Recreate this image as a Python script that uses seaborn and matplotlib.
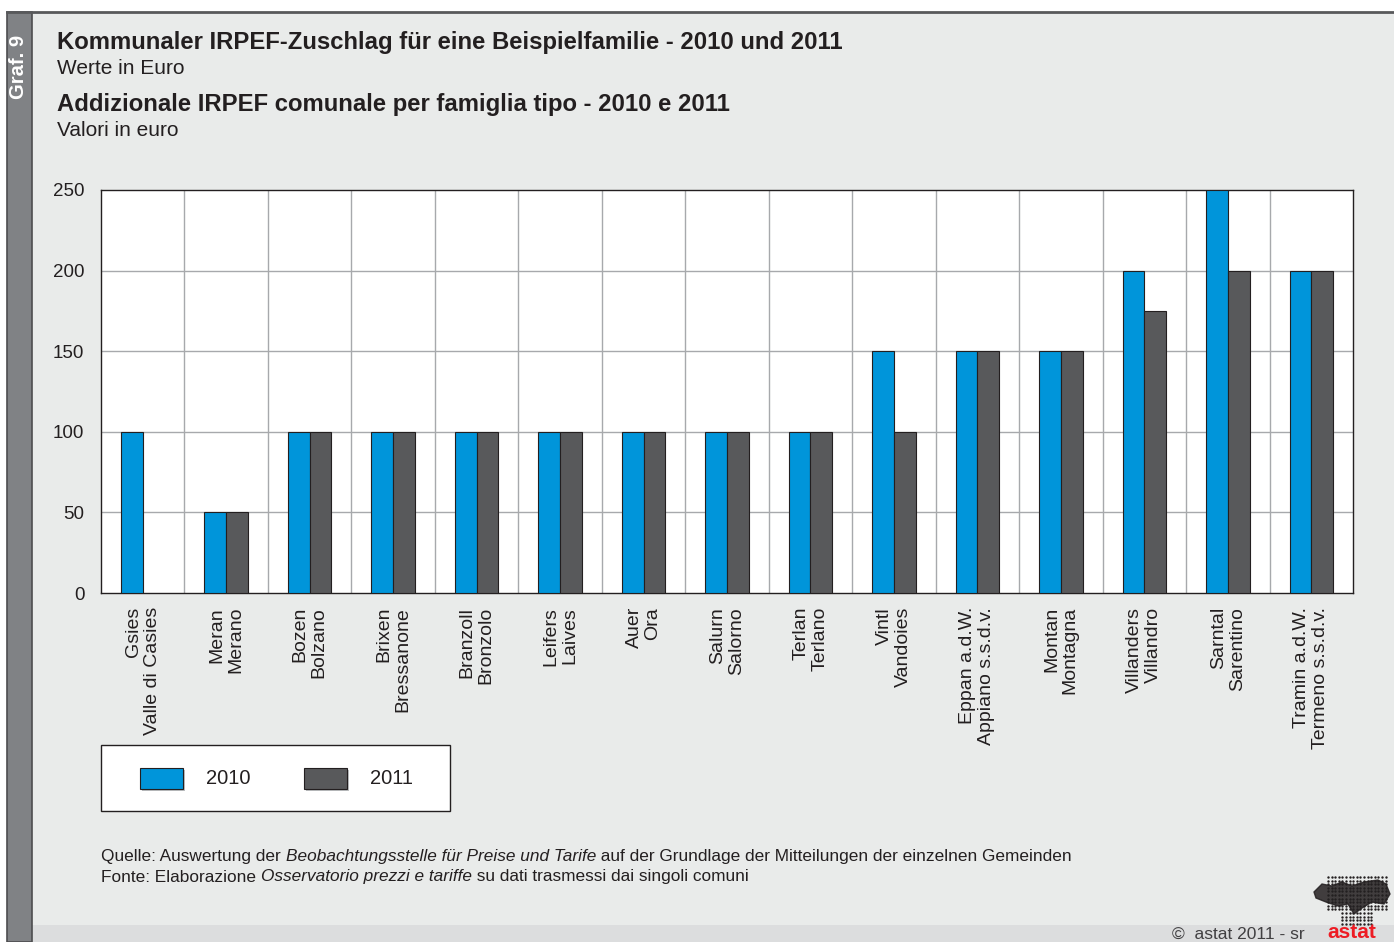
import numpy as np
import pandas as pd
import matplotlib
matplotlib.use("Agg")
from matplotlib import pyplot as plt
from matplotlib.patches import Rectangle
import seaborn as sns

# data
gemeinden = ["Gsies\nValle di Casies", "Meran\nMerano", "Bozen\nBolzano", "Brixen\nBressanone",
             "Branzoll\nBronzolo", "Leifers\nLaives", "Auer\nOra", "Salurn\nSalorno",
             "Terlan\nTerlano", "Vintl\nVandoies", "Eppan a.d.W.\nAppiano s.s.d.v.",
             "Montan\nMontagna", "Villanders\nVillandro", "Sarntal\nSarentino",
             "Tramin a.d.W.\nTermeno s.s.d.v."]
werte_2010 = [100, 50, 100, 100, 100, 100, 100, 100, 100, 150, 150, 150, 200, 250, 200]
werte_2011 = [np.nan, 50, 100, 100, 100, 100, 100, 100, 100, 100, 150, 150, 175, 200, 200]
jahre = ["2010", "2011"]
farben = ["#0095DA", "#58595B"]

df = pd.DataFrame({"gemeinde": gemeinden * 2,
                   "jahr": [jahre[0]] * len(gemeinden) + [jahre[1]] * len(gemeinden),
                   "wert": werte_2010 + werte_2011})

plt.rcParams['font.family'] = ['Liberation Sans', 'DejaVu Sans']
bg = "#E9EBEA"

fig = plt.figure(figsize=(13.94, 9.42), dpi=100)
fig.patch.set_facecolor("white")
W, H = 1394, 942

def fx(px):
    return px / W

def fy(py):
    return 1 - py / H

# background panels
fig.add_artist(Rectangle((fx(7), fy(942)), fx(1394 - 7), (942 - 12) / H, transform=fig.transFigure,
                         facecolor=bg, edgecolor="none", zorder=0))
fig.add_artist(Rectangle((fx(32), fy(942)), fx(1394 - 32), 17 / H, transform=fig.transFigure,
                         facecolor="#DCDDDE", edgecolor="none", zorder=0))
fig.add_artist(Rectangle((fx(7), fy(942)), fx(25), (942 - 12) / H, transform=fig.transFigure,
                         facecolor="#808285", edgecolor="#4D4D4F", linewidth=1.2, zorder=1))
fig.add_artist(plt.Line2D([fx(7), 1], [fy(12), fy(12)], transform=fig.transFigure,
                          color="#58595B", linewidth=2, zorder=2))
fig.text(fx(19), fy(67), "Graf. 9", rotation=90, color="white", fontsize=14.5,
         fontweight="bold", ha="center", va="center")

# titles
fig.text(fx(57), fy(43), "Kommunaler IRPEF-Zuschlag für eine Beispielfamilie - 2010 und 2011",
         fontsize=17.2, fontweight="bold", color="#231F20", va="center")
fig.text(fx(57), fy(68), "Werte in Euro", fontsize=15, color="#231F20", va="center")
fig.text(fx(57), fy(105), "Addizionale IRPEF comunale per famiglia tipo - 2010 e 2011",
         fontsize=17.2, fontweight="bold", color="#231F20", va="center")
fig.text(fx(57), fy(130), "Valori in euro", fontsize=15, color="#231F20", va="center")

ax = fig.add_axes([fx(101), fy(593), fx(1353 - 101), (593 - 190) / H])
ax.set_facecolor("white")
sns.barplot(data=df, x="gemeinde", y="wert", hue="jahr", palette=farben, width=0.52,
            saturation=1, edgecolor="#231F20", linewidth=0.8, ax=ax, legend=False, zorder=3)

n = len(gemeinden)
ax.set_xlim(-0.5, n - 0.5)
ax.set_ylim(0, 250)
ax.set_yticks([0, 50, 100, 150, 200, 250])
for y in [50, 100, 150, 200]:
    ax.axhline(y, color="#A7A9AC", linewidth=1, zorder=1)
for x in np.arange(0.5, n - 0.5, 1):
    ax.axvline(x, color="#A7A9AC", linewidth=1, zorder=1)
for s in ax.spines.values():
    s.set_color("#231F20")
    s.set_linewidth(1)
ax.tick_params(axis="both", length=0, labelsize=13.5, colors="#231F20")
ax.tick_params(axis="y", pad=12)
ax.tick_params(axis="x", pad=10)
ax.set_xticks(range(n))
ax.set_xticklabels(gemeinden, rotation=90, ha="center", va="top", multialignment="right",
                   fontsize=14, linespacing=1.15)
ax.set_xlabel("")
ax.set_ylabel("")

# legend box
fig.add_artist(Rectangle((fx(101), fy(811)), fx(450 - 101), (811 - 745) / H,
                         transform=fig.transFigure, facecolor="white", edgecolor="#231F20",
                         linewidth=1, zorder=2))
for i, (lab, col) in enumerate(zip(jahre, farben)):
    x0 = 140 + i * 164
    fig.add_artist(Rectangle((fx(x0 + 2), fy(791)), fx(43), 21 / H, transform=fig.transFigure,
                             facecolor="#BCBEC0", edgecolor="none", zorder=3))
    fig.add_artist(Rectangle((fx(x0), fy(789)), fx(43), 21 / H, transform=fig.transFigure,
                             facecolor=col, edgecolor="#231F20", linewidth=0.8, zorder=4))
    fig.text(fx(x0 + 66), fy(778), lab, fontsize=14.5, color="#231F20", va="center", zorder=5)

# source lines with italic parts
fig.canvas.draw()
renderer = fig.canvas.get_renderer()

def zeile(teile, x, y):
    for txt, style in teile:
        t = fig.text(x, y, txt, fontsize=12.4, style=style, color="#231F20", va="center")
        bb = t.get_window_extent(renderer=renderer)
        x = fig.transFigure.inverted().transform((bb.x1, 0))[0]

zeile([("Quelle: Auswertung der ", "normal"),
       ("Beobachtungsstelle für Preise und Tarife", "italic"),
       (" auf der Grundlage der Mitteilungen der einzelnen Gemeinden", "normal")], fx(101), fy(857))
zeile([("Fonte: Elaborazione ", "normal"),
       ("Osservatorio prezzi e tariffe", "italic"),
       (" su dati trasmessi dai singoli comuni", "normal")], fx(101), fy(877))

fig.text(fx(1305), fy(934), "\u00a9  astat 2011 - sr", fontsize=12.5, color="#414042",
         ha="right", va="center")
fig.text(fx(1352), fy(933), "astat", fontsize=15, fontweight="bold", color="#ED1C24",
         ha="center", va="center")

# dotted logo above "astat"
lax = fig.add_axes([fx(1312), fy(926), fx(80), 52 / H])
lax.set_xlim(0, 80)
lax.set_ylim(52, 0)
lax.axis("off")
gx, gy = np.meshgrid(np.arange(16, 74, 3.6), np.arange(3, 50, 3.6))
gx, gy = gx.ravel(), gy.ravel()
maske = (gy < 36) | ((gx > 28) & (gx < 60))
lax.scatter(gx[maske], gy[maske], s=3, color="#231F20", linewidths=0)
lax.fill([2, 10, 20, 30, 40, 52, 66, 74, 78, 72, 60, 50, 42, 36, 26, 14, 4],
         [18, 10, 12, 8, 12, 8, 6, 10, 20, 30, 28, 34, 40, 30, 32, 28, 24],
         color="#231F20", alpha=0.85)

fig.savefig("out.png", dpi=100, facecolor=fig.get_facecolor())
